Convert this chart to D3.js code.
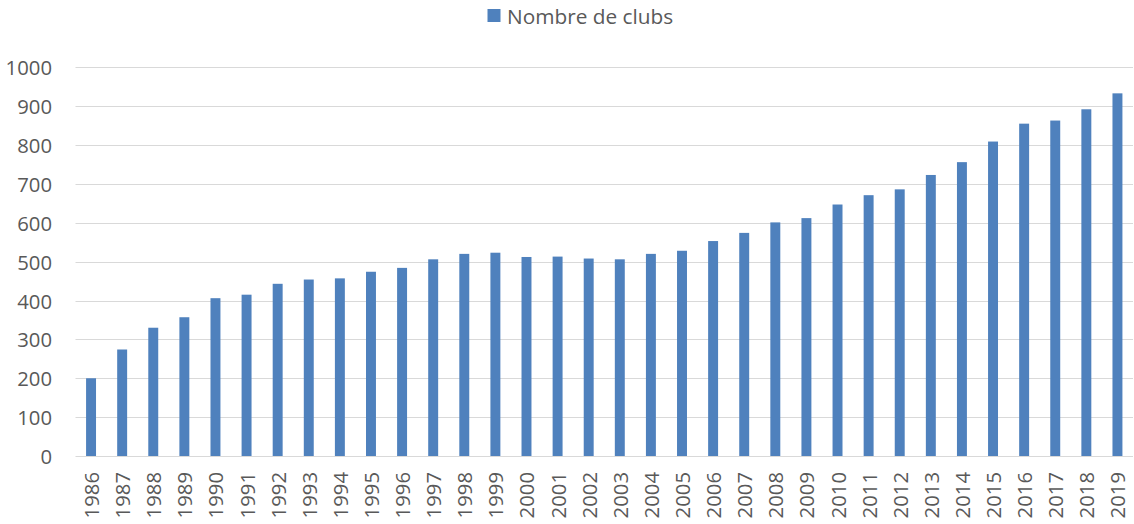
<!DOCTYPE html>
<html><head><meta charset="utf-8">
<script src="https://cdn.jsdelivr.net/npm/d3@7"></script>
<style>
body{margin:0;background:#fff;}
text{font-family:"Open Sans",sans-serif;fill:#595959;}
</style></head>
<body><svg id="c" width="1134" height="524"></svg>
<script>
const years = ["1986","1987","1988","1989","1990","1991","1992","1993","1994","1995","1996","1997","1998","1999","2000","2001","2002","2003","2004","2005","2006","2007","2008","2009","2010","2011","2012","2013","2014","2015","2016","2017","2018","2019"];
const clubs = [200,274,330,357,406,415,443,454,457,474,484,506,520,523,512,513,508,506,520,528,553,574,601,612,647,671,686,723,756,809,855,863,892,933];
const yTicks = [0,100,200,300,400,500,600,700,800,900,1000];
const seriesName = "Nombre de clubs";

const svg = d3.select("#c");
const x = d3.scaleBand().domain(years).range([75.5,1133]).paddingInner(0.68).paddingOuter(0.34);
const y = d3.scaleLinear().domain([0,1000]).range([456,67.3]);

// gridlines
svg.append("g").selectAll("line").data(yTicks).join("line")
  .attr("x1",75.5).attr("x2",1133)
  .attr("y1",d=>Math.round(y(d))+0.5).attr("y2",d=>Math.round(y(d))+0.5)
  .attr("stroke","#d9d9d9").attr("stroke-width",1.2);

// y labels
svg.append("g").selectAll("text").data(yTicks).join("text")
  .attr("x",52).attr("y",d=>y(d)).attr("text-anchor","end")
  .attr("dominant-baseline","central").style("font-size","20.3px").text(d=>d);

// bars
svg.append("g").selectAll("rect").data(years).join("rect")
  .attr("x",(d)=>x(d)).attr("width",x.bandwidth())
  .attr("y",(d,i)=>y(clubs[i])).attr("height",(d,i)=>y(0)-y(clubs[i]))
  .attr("fill","#4f81bd");

// x labels
svg.append("g").selectAll("text").data(years).join("text")
  .attr("transform",d=>`translate(${x(d)+x.bandwidth()/2},472) rotate(-90)`)
  .attr("text-anchor","end").attr("dominant-baseline","central")
  .style("font-size","20.3px").text(d=>d);

// legend
const lg = svg.append("g");
lg.append("rect").attr("x",487.5).attr("y",9).attr("width",13).attr("height",13).attr("fill","#4f81bd");
lg.append("text").attr("x",507).attr("y",16).attr("dominant-baseline","central")
  .style("font-size","20.8px").text(seriesName);
</script></body></html>
